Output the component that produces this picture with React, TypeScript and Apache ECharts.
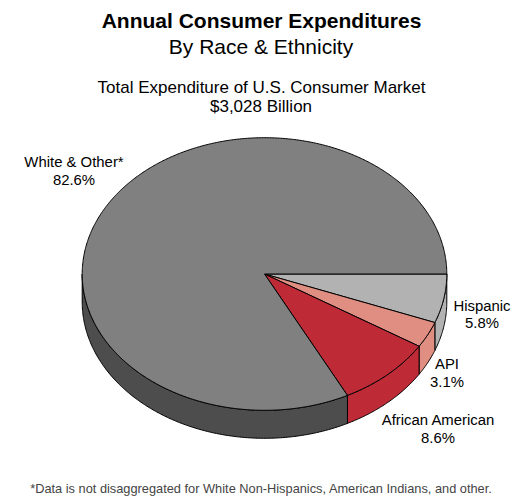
import React, { useEffect, useRef } from "react";
import * as echarts from "echarts";

const categories = ["Hispanic", "API", "African American", "White & Other*"];
const shares = [5.8, 3.1, 8.6, 82.6];
const shareLabels = ["5.8%", "3.1%", "8.6%", "82.6%"];
const topColors = ["#b2b2b2", "#e08e82", "#bf2a37", "#808080"];
const sideColors = ["#b2b2b2", "#e08e82", "#bf2a37", "#4d4d4d"];
const labelPositions = [[482, 314.5], [447, 373], [438, 429], [74, 171]];

const CX = 264.5, CY = 274, RX = 182.3, RY = 136.3, DEPTH = 28;
const FONT = '"Liberation Sans", Arial, sans-serif';

function pt(deg: number, dy = 0): number[] {
  const a = (deg * Math.PI) / 180;
  return [CX + RX * Math.cos(a), CY + RY * Math.sin(a) + dy];
}

function arc(from: number, to: number, dy = 0): number[][] {
  const pts: number[][] = [];
  const n = Math.max(2, Math.ceil(Math.abs(to - from) * 2));
  for (let i = 0; i <= n; i++) pts.push(pt(from + ((to - from) * i) / n, dy));
  return pts;
}

export default function App() {
  const ref = useRef<HTMLDivElement>(null);
  useEffect(() => {
    document.body.style.margin = "0";
    const chart = echarts.init(ref.current!, undefined, { renderer: "svg" });
    const total = shares.reduce((a, b) => a + b, 0);
    const text = (x: number, y: number, s: string, size: number, extra: object = {}) => ({
      type: "text", x, y,
      style: { text: s, font: `${size}px ${FONT}`, fill: "#000", align: "center", verticalAlign: "middle", ...extra },
    });
    chart.setOption({
      animation: false,
      backgroundColor: "#fff",
      graphic: [
        text(261.5, 20, "Annual Consumer Expenditures", 21, { font: `bold 21px ${FONT}` }),
        text(261, 46, "By Race & Ethnicity", 21),
        text(261.5, 87, "Total Expenditure of U.S. Consumer Market", 17),
        text(261, 106, "$3,028 Billion", 17),
        text(261, 488.5, "*Data is not disaggregated for White Non-Hispanics, American Indians, and other.", 12.8, { fill: "#444" }),
        ...categories.map((c, i) => {
          const [x, y] = labelPositions[i];
          return text(x, y, `${c}\n${shareLabels[i]}`, 14.9, { lineHeight: 17.5 });
        }),
      ],
      series: [
        {
          type: "custom",
          coordinateSystem: "none",
          clip: false,
          silent: true,
          data: shares.map((v, i) => ({ name: categories[i], value: v })),
          renderItem: (params: any) => {
            const i = params.dataIndex;
            const before = shares.slice(0, i).reduce((a, b) => a + b, 0);
            const start = (before / total) * 360;
            const end = ((before + shares[i]) / total) * 360;
            const children: any[] = [];
            const sideEnd = Math.min(end, 180);
            if (start < 180) {
              const top = arc(start, sideEnd);
              const bottom = arc(sideEnd, start, DEPTH);
              children.push({
                type: "polygon",
                shape: { points: [...top, ...bottom] },
                style: { fill: sideColors[i], stroke: "#000", lineWidth: 1, lineJoin: "round" },
              });
            }
            children.push({
              type: "polygon",
              shape: { points: [[CX, CY], ...arc(start, end)] },
              style: { fill: topColors[i], stroke: "#000", lineWidth: 1, lineJoin: "round" },
            });
            return { type: "group", children };
          },
        },
      ],
    });
    return () => chart.dispose();
  }, []);
  return <div ref={ref} style={{ width: 529, height: 496 }} />;
}
